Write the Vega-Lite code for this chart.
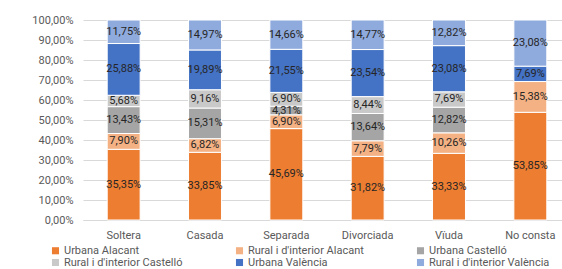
{
  "$schema": "https://vega.github.io/schema/vega-lite/v6.json",
  "autosize": {"type": "none"},
  "padding": {"left": 83, "top": 20, "right": 0, "bottom": 49},
  "width": 488,
  "height": 200,
  "config": {
    "locale": {"number": {"decimal": ",", "thousands": ".", "grouping": [3], "currency": ["", " €"]}},
    "view": {"stroke": null},
    "font": "Roboto",
    "background": "white"
  },
  "data": {
    "values": [
      {"estat": "Soltera", "serie": "Urbana Alacant", "k": 1, "v": 0.3535},
      {"estat": "Soltera", "serie": "Rural i d'interior Alacant", "k": 2, "v": 0.0790},
      {"estat": "Soltera", "serie": "Urbana Castelló", "k": 3, "v": 0.1343},
      {"estat": "Soltera", "serie": "Rural i d'interior Castelló", "k": 4, "v": 0.0568},
      {"estat": "Soltera", "serie": "Urbana València", "k": 5, "v": 0.2588},
      {"estat": "Soltera", "serie": "Rural i d'interior València", "k": 6, "v": 0.1175},
      {"estat": "Casada", "serie": "Urbana Alacant", "k": 1, "v": 0.3385},
      {"estat": "Casada", "serie": "Rural i d'interior Alacant", "k": 2, "v": 0.0682},
      {"estat": "Casada", "serie": "Urbana Castelló", "k": 3, "v": 0.1531},
      {"estat": "Casada", "serie": "Rural i d'interior Castelló", "k": 4, "v": 0.0916},
      {"estat": "Casada", "serie": "Urbana València", "k": 5, "v": 0.1989},
      {"estat": "Casada", "serie": "Rural i d'interior València", "k": 6, "v": 0.1497},
      {"estat": "Separada", "serie": "Urbana Alacant", "k": 1, "v": 0.4569},
      {"estat": "Separada", "serie": "Rural i d'interior Alacant", "k": 2, "v": 0.0690},
      {"estat": "Separada", "serie": "Urbana Castelló", "k": 3, "v": 0.0431},
      {"estat": "Separada", "serie": "Rural i d'interior Castelló", "k": 4, "v": 0.0690},
      {"estat": "Separada", "serie": "Urbana València", "k": 5, "v": 0.2155},
      {"estat": "Separada", "serie": "Rural i d'interior València", "k": 6, "v": 0.1466},
      {"estat": "Divorciada", "serie": "Urbana Alacant", "k": 1, "v": 0.3182},
      {"estat": "Divorciada", "serie": "Rural i d'interior Alacant", "k": 2, "v": 0.0779},
      {"estat": "Divorciada", "serie": "Urbana Castelló", "k": 3, "v": 0.1364},
      {"estat": "Divorciada", "serie": "Rural i d'interior Castelló", "k": 4, "v": 0.0844},
      {"estat": "Divorciada", "serie": "Urbana València", "k": 5, "v": 0.2354},
      {"estat": "Divorciada", "serie": "Rural i d'interior València", "k": 6, "v": 0.1477},
      {"estat": "Vïuda", "serie": "Urbana Alacant", "k": 1, "v": 0.3333},
      {"estat": "Vïuda", "serie": "Rural i d'interior Alacant", "k": 2, "v": 0.1026},
      {"estat": "Vïuda", "serie": "Urbana Castelló", "k": 3, "v": 0.1282},
      {"estat": "Vïuda", "serie": "Rural i d'interior Castelló", "k": 4, "v": 0.0769},
      {"estat": "Vïuda", "serie": "Urbana València", "k": 5, "v": 0.2308},
      {"estat": "Vïuda", "serie": "Rural i d'interior València", "k": 6, "v": 0.1282},
      {"estat": "No consta", "serie": "Urbana Alacant", "k": 1, "v": 0.5385},
      {"estat": "No consta", "serie": "Rural i d'interior Alacant", "k": 2, "v": 0.1538},
      {"estat": "No consta", "serie": "Urbana València", "k": 5, "v": 0.0769},
      {"estat": "No consta", "serie": "Rural i d'interior València", "k": 6, "v": 0.2308}
    ]
  },
  "transform": [
    {"stack": "v", "groupby": ["estat"], "sort": [{"field": "k", "order": "ascending"}], "as": ["v0", "v1"]},
    {"calculate": "(datum.v0 + datum.v1) / 2", "as": "vm"}
  ],
  "encoding": {
    "x": {
      "field": "estat",
      "type": "nominal",
      "sort": ["Soltera", "Casada", "Separada", "Divorciada", "Vïuda", "No consta"],
      "scale": {"paddingInner": 0.595, "paddingOuter": 0.2975},
      "axis": {
        "title": null,
        "labelAngle": 0,
        "ticks": false,
        "domain": true,
        "domainColor": "#D9D9D9",
        "labelColor": "#595959",
        "labelFont": "Roboto",
        "labelFontSize": 11,
        "labelPadding": 9
      }
    }
  },
  "layer": [
    {
      "mark": {"type": "bar", "stroke": "white", "strokeWidth": 1},
      "encoding": {
        "y": {
          "field": "v0",
          "type": "quantitative",
          "title": null,
          "scale": {"domain": [0, 1], "nice": false, "clamp": true},
          "axis": {
            "title": null,
            "values": [0, 0.1, 0.2, 0.3, 0.4, 0.5, 0.6, 0.7, 0.8, 0.9, 1],
            "format": ".2%",
            "labelOverlap": false,
            "domain": false,
            "ticks": false,
            "grid": true,
            "gridColor": "#D9D9D9",
            "labelColor": "#595959",
            "labelFont": "Roboto",
            "labelFontSize": 11,
            "labelPadding": 10
          }
        },
        "y2": {"field": "v1"},
        "color": {
          "field": "serie",
          "type": "nominal",
          "scale": {
            "domain": ["Urbana Alacant", "Rural i d'interior Alacant", "Urbana Castelló", "Rural i d'interior Castelló", "Urbana València", "Rural i d'interior València"],
            "range": ["#ED7D31", "#F4B183", "#A5A5A5", "#C9C9C9", "#4472C4", "#8FAADC"]
          },
          "legend": {
            "title": null,
            "orient": "none",
            "legendX": -33,
            "legendY": 225,
            "direction": "horizontal",
            "columns": 3,
            "columnPadding": 51,
            "rowPadding": 0,
            "symbolType": "square",
            "symbolSize": 50,
            "symbolStrokeWidth": 0,
            "labelFont": "Roboto",
            "labelFontSize": 11,
            "labelColor": "#595959",
            "labelOffset": 3,
            "padding": 0
          }
        }
      }
    },
    {
      "mark": {"type": "text", "fontSize": 11, "font": "Roboto", "color": "#262626"},
      "encoding": {
        "y": {
          "field": "vm",
          "type": "quantitative",
          "title": null,
          "axis": {
            "title": null,
            "values": [0, 0.1, 0.2, 0.3, 0.4, 0.5, 0.6, 0.7, 0.8, 0.9, 1],
            "format": ".2%",
            "labelOverlap": false,
            "domain": false,
            "ticks": false,
            "grid": true,
            "gridColor": "#D9D9D9",
            "labelColor": "#595959",
            "labelFont": "Roboto",
            "labelFontSize": 11,
            "labelPadding": 10
          }
        },
        "text": {"field": "v", "type": "quantitative", "format": ".2%"}
      }
    }
  ]
}
